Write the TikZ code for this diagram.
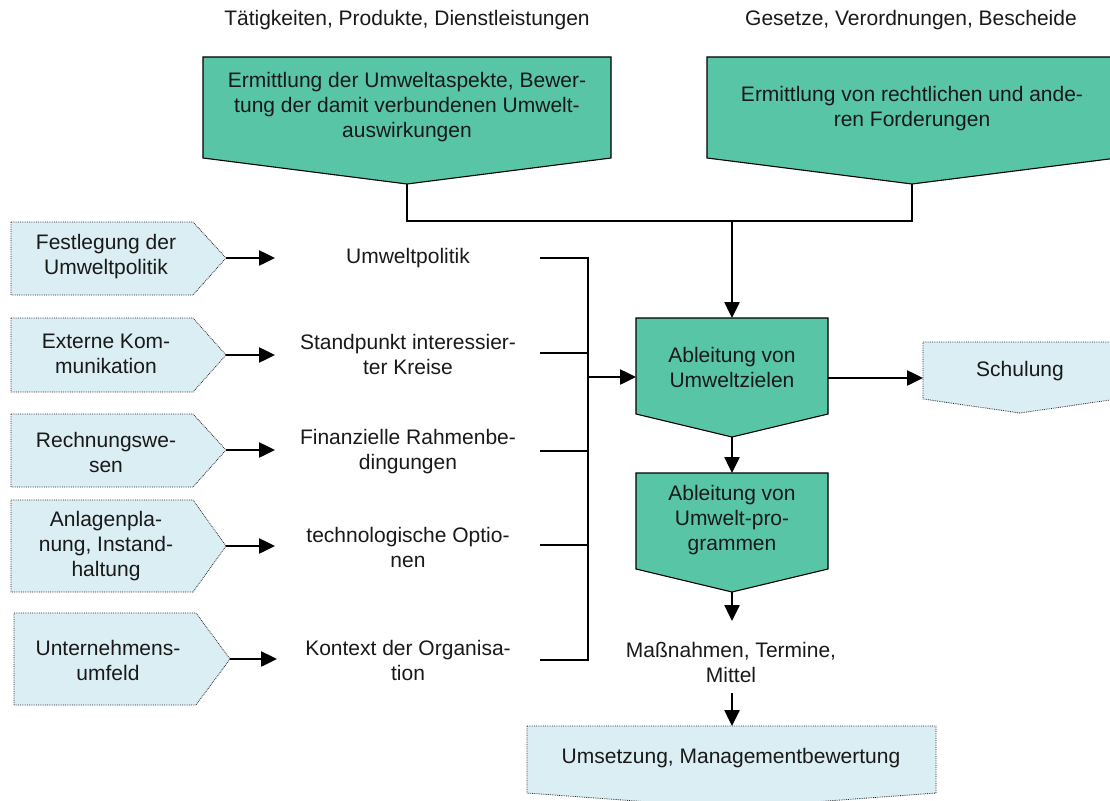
\documentclass[tikz,border=0pt]{standalone}
\usepackage{fontspec}
\setmainfont{Liberation Sans}
\usetikzlibrary{arrows.meta}
\definecolor{tgreen}{HTML}{58C5A7}
\definecolor{lblue}{HTML}{DAEEF3}
\begin{document}
\begin{tikzpicture}[x=1pt,y=-1pt,font=\fontsize{21}{25}\selectfont,
  gbox/.style={fill=tgreen,draw=black,line width=1.1pt},
  bbox/.style={fill=lblue,draw=black!85,densely dotted,line width=0.8pt},
  conn/.style={line width=2.5pt},
  arr/.style={conn,-{Triangle[length=16pt,width=15pt]}},
  txt/.style={align=center,inner sep=0pt,text=black!90}]
\useasboundingbox (0,0) rectangle (1110,800);
\clip (0,0) rectangle (1110,800);

% top labels
\node[txt] (lt1) at (407,20) {Tätigkeiten, Produkte, Dienstleistungen};
\node[txt] (lt2) at (911,20) {Gesetze, Verordnungen, Bescheide};

% top green boxes
\draw[gbox] (203,57) -- (611,57) -- (611,158) -- (407,184) -- (203,158) -- cycle;
\coordinate (t1tip) at (407,184);
\node[txt] (t1) at (407,107) {Ermittlung der Umweltaspekte, Bewer-\\tung der damit verbundenen Umwelt-\\auswirkungen};
\draw[gbox] (707,57) -- (1117,57) -- (1117,158) -- (912,184) -- (707,158) -- cycle;
\coordinate (t2tip) at (912,184);
\node[txt] (t2) at (912,109) {Ermittlung von rechtlichen und ande-\\ren Forderungen};

% central green boxes
\draw[gbox] (636,318) -- (828,318) -- (828,414) -- (732,437) -- (636,414) -- cycle;
\coordinate (z1top) at (732,318);
\coordinate (z1left) at (636,377);
\coordinate (z1right) at (828,378);
\coordinate (z1tip) at (732,437);
\node[txt] (z1) at (732,367) {Ableitung von\\Umweltzielen};
\draw[gbox] (636,473) -- (828,473) -- (828,569) -- (732,592) -- (636,569) -- cycle;
\coordinate (z2top) at (732,473);
\coordinate (z2tip) at (732,592);
\node[txt] (z2) at (732,520) {Ableitung von\\Umwelt-pro-\\grammen};

% junction from top boxes
\coordinate (j1) at (407,221);
\coordinate (j2) at (912,221);
\coordinate (jm) at (732,221);
\draw[conn] (t1tip) -- (j1) -- (j2) -- (t2tip);
\draw[arr] (jm) -- (z1top);
\draw[arr] (z1tip) -- (z2top);

% Massnahmen
\node[txt] (mn) at (731,662) {Maßnahmen, Termine,\\Mittel};
\coordinate (mnTop) at (732,621);
\coordinate (mnBot) at (732,693);
\draw[arr] (z2tip) -- (mnTop);

% bottom box
\draw[bbox] (527,726) -- (936,726) -- (936,793) -- (731.5,808) -- (527,793) -- cycle;
\coordinate (ubtop) at (732,726);
\node[txt] (ub) at (731,758) {Umsetzung, Managementbewertung};
\draw[arr] (mnBot) -- (ubtop);

% Schulung
\draw[bbox] (923,342) -- (1117,342) -- (1117,399) -- (1020,413) -- (923,399) -- cycle;
\coordinate (scleft) at (923,378);
\node[txt] (sc) at (1020,371) {Schulung};
\draw[arr] (z1right) -- (scleft);

% left boxes
\draw[bbox] (11,222) -- (193,222) -- (226,258) -- (193,295) -- (11,295) -- cycle;
\coordinate (l1tip) at (226,258);
\node[txt] (l1) at (106,257) {Festlegung der\\Umweltpolitik};
\draw[bbox] (11,318) -- (193,318) -- (226,355) -- (193,392) -- (11,392) -- cycle;
\coordinate (l2tip) at (226,355);
\node[txt] (l2) at (106,354) {Externe Kom-\\munikation};
\draw[bbox] (11,414) -- (193,414) -- (226,450) -- (193,487) -- (11,487) -- cycle;
\coordinate (l3tip) at (226,450);
\node[txt] (l3) at (106,452) {Rechnungswe-\\sen};
\draw[bbox] (11,500) -- (193,500) -- (226,546) -- (193,592) -- (11,592) -- cycle;
\coordinate (l4tip) at (226,546);
\node[txt] (l4) at (106,546) {Anlagenpla-\\nung, Instand-\\haltung};
\draw[bbox] (14,613) -- (196,613) -- (230,659) -- (196,705) -- (14,705) -- cycle;
\coordinate (l5tip) at (230,659);
\node[txt] (l5) at (108,660) {Unternehmens-\\umfeld};

% middle texts
\node[txt] (m1) at (408,258) {Umweltpolitik};
\node[txt] (m2) at (408,354) {Standpunkt interessier-\\ter Kreise};
\node[txt] (m3) at (408,452) {Finanzielle Rahmenbe-\\dingungen};
\node[txt] (m4) at (408,547) {technologische Optio-\\nen};
\node[txt] (m5) at (408,660) {Kontext der Organisa-\\tion};

\coordinate (a1) at (275,258);
\coordinate (a2) at (275,355);
\coordinate (a3) at (275,450);
\coordinate (a4) at (275,546);
\coordinate (a5) at (277,659);
\draw[arr] (l1tip) -- (a1);
\draw[arr] (l2tip) -- (a2);
\draw[arr] (l3tip) -- (a3);
\draw[arr] (l4tip) -- (a4);
\draw[arr] (l5tip) -- (a5);

% bus
\coordinate (b1) at (540,258);
\coordinate (b2) at (540,353);
\coordinate (b3) at (540,451);
\coordinate (b4) at (540,545);
\coordinate (b5) at (540,660);
\coordinate (bt) at (588,258);
\coordinate (bb) at (588,660);
\coordinate (bm) at (588,377);
\draw[conn] (b1) -- (bt) -- (bb) -- (b5);
\draw[conn] (b2) -- (b2 -| bt);
\draw[conn] (b3) -- (b3 -| bt);
\draw[conn] (b4) -- (b4 -| bt);
\draw[arr] (bm) -- (z1left);
\end{tikzpicture}
\end{document}
